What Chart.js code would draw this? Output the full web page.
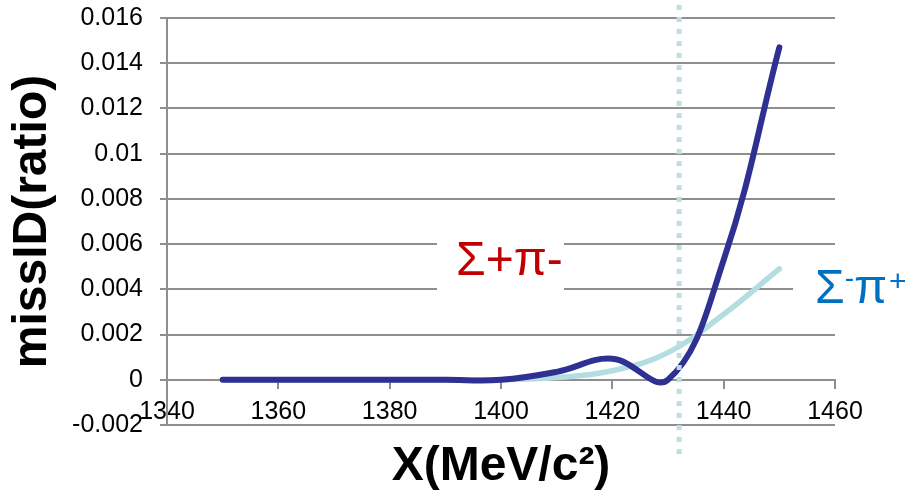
<!DOCTYPE html>
<html>
<head>
<meta charset="utf-8">
<script src="https://cdn.jsdelivr.net/npm/chart.js@4.4.1/dist/chart.umd.min.js"></script>
<style>
  html, body { margin: 0; padding: 0; background: #ffffff; }
  #wrap { width: 912px; height: 491px; }
</style>
</head>
<body>
<div id="wrap"><canvas id="c" width="912" height="491"></canvas></div>
<script>
// ---- data ----
const massValues = [1350, 1360, 1370, 1380, 1390, 1400, 1410, 1420, 1430, 1440, 1450];
const sigmaPlusPiMinus = [0, 0, 0, 0, 0, 0, 0.00035, 0.00093, 0.0, 0.0053, 0.0147];
const sigmaMinusPiPlus = [0, 0, 0, 0, 0, 0, 0.0001, 0.0004, 0.0012, 0.0029, 0.0049];
const xTickValues = [1340, 1360, 1380, 1400, 1420, 1440, 1460];
const yTickValues = [-0.002, 0, 0.002, 0.004, 0.006, 0.008, 0.01, 0.012, 0.014, 0.016];
const yTickLabels = ['-0.002', '0', '0.002', '0.004', '0.006', '0.008', '0.01', '0.012', '0.014', '0.016'];
const cutMass = [1432];
const labelTexts = ['Σ+π-', 'Σ', '-', 'π', '+'];
const axisTitles = ['X(MeV/c²)', 'missID(ratio)'];

const FONT = '"Liberation Sans", Arial, Helvetica, sans-serif';
const GRID = '#8e8e8e';

const toPoints = (xs, ys) => xs.map((x, i) => ({ x: x, y: ys[i] }));

const annotations = {
  id: 'annotations',
  afterDatasetsDraw(chart) {
    const { ctx, chartArea, scales } = chart;
    const xs = scales.x;
    ctx.save();
    // white label backgrounds (cover gridlines like the original text boxes)
    ctx.fillStyle = '#ffffff';
    ctx.fillRect(437, 232, 127, 68);
    ctx.fillRect(793, 262, 119, 58);

    // dotted vertical line
    const px = xs.getPixelForValue(cutMass[0]);
    ctx.beginPath();
    ctx.setLineDash([5, 7]);
    ctx.lineWidth = 5;
    ctx.strokeStyle = '#b9e0e3';
    ctx.moveTo(px, 5);
    ctx.lineTo(px, 455);
    ctx.stroke();
    ctx.setLineDash([]);

    // Σ+π- label
    ctx.textAlign = 'left';
    ctx.textBaseline = 'alphabetic';
    ctx.font = '48px ' + FONT;
    ctx.fillStyle = '#c00000';
    ctx.fillText(labelTexts[0], 456, 275);

    // Σ-π+ label with superscripts
    ctx.fillStyle = '#0070c0';
    let cx = 815;
    const base = 303;
    ctx.font = '48px ' + FONT;
    ctx.fillText(labelTexts[1], cx, base);
    cx += ctx.measureText(labelTexts[1]).width;
    ctx.font = '28px ' + FONT;
    ctx.fillText(labelTexts[2], cx, base - 16);
    cx += ctx.measureText(labelTexts[2]).width;
    ctx.font = '48px ' + FONT;
    ctx.fillText(labelTexts[3], cx, base);
    cx += ctx.measureText(labelTexts[3]).width;
    ctx.font = '30px ' + FONT;
    ctx.fillText(labelTexts[4], cx + 2, base - 12);

    // x axis title
    ctx.font = 'bold 48px ' + FONT;
    ctx.fillStyle = '#000000';
    ctx.textAlign = 'center';
    ctx.fillText(axisTitles[0], (chartArea.left + chartArea.right) / 2, 480);
    ctx.restore();
  }
};

new Chart(document.getElementById('c'), {
  type: 'line',
  data: {
    datasets: [
      {
        label: 'Σ+π-',
        data: toPoints(massValues, sigmaPlusPiMinus),
        borderColor: '#2e3192',
        borderWidth: 6,
        borderCapStyle: 'round',
        borderJoinStyle: 'round',
        pointRadius: 0,
        tension: 0.4,
        fill: false,
        order: 1
      },
      {
        label: 'Σ-π+',
        data: toPoints(massValues, sigmaMinusPiPlus),
        borderColor: '#b4dde1',
        borderWidth: 5.5,
        borderCapStyle: 'round',
        pointRadius: 0,
        tension: 0.4,
        fill: false,
        order: 2
      }
    ]
  },
  options: {
    responsive: false,
    animation: false,
    devicePixelRatio: 1,
    layout: { padding: { top: 18, right: 77, bottom: 66, left: 0 } },
    plugins: { legend: { display: false }, tooltip: { enabled: false }, title: { display: false } },
    scales: {
      x: {
        type: 'linear',
        min: 1340,
        max: 1460,
        position: { y: 0 },
        afterBuildTicks: (s) => { s.ticks = xTickValues.map(v => ({ value: v })); },
        ticks: {
          font: { family: FONT, size: 25 },
          color: '#000000',
          padding: 9,
          maxRotation: 0,
          autoSkip: false,
          callback: (v) => String(v)
        },
        grid: { drawOnChartArea: false, drawTicks: true, tickLength: 8, color: GRID, lineWidth: 2 },
        border: { display: true, color: GRID, width: 2 }
      },
      y: {
        type: 'linear',
        min: -0.002,
        max: 0.016,
        afterBuildTicks: (s) => { s.ticks = yTickValues.map(v => ({ value: v })); },
        afterFit: (s) => { s.width = 167; s.paddingTop = 0; s.paddingBottom = 0; },
        ticks: {
          font: { family: FONT, size: 25 },
          color: '#000000',
          padding: 17,
          autoSkip: false,
          callback: (v) => {
            const i = yTickValues.findIndex(t => Math.abs(t - v) < 1e-9);
            return i >= 0 ? yTickLabels[i] : '';
          }
        },
        grid: { color: GRID, lineWidth: 2, tickLength: 7 },
        border: { display: true, color: GRID, width: 2 },
        title: {
          display: true,
          text: axisTitles[1],
          font: { family: FONT, size: 48, weight: 'bold' },
          color: '#000000',
          padding: { top: 4, bottom: 0 }
        }
      }
    }
  },
  plugins: [annotations]
});
</script>
</body>
</html>
